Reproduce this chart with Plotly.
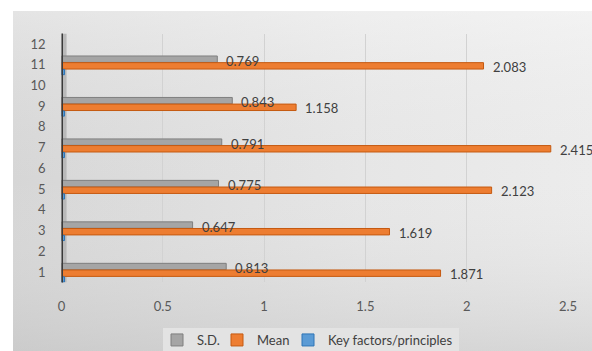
import plotly.graph_objects as go

# Category positions (1..12 axis, bars on odd rows)
positions = [1, 3, 5, 7, 9, 11]
y_ticks = list(range(1, 13))

sd_values = [0.813, 0.647, 0.775, 0.791, 0.843, 0.769]
mean_values = [1.871, 1.619, 2.123, 2.415, 1.158, 2.083]
key_values = [0.015, 0.015, 0.015, 0.015, 0.015, 0.015]

x_ticks = [0, 0.5, 1, 1.5, 2, 2.5]

FONT = "Lato"
W, H = 592, 351

fig = go.Figure()

# Soft gradient backdrop on a full-page helper axis pair
bx0, by1 = 13 / W, (H - 11) / H
fig.add_trace(go.Scatter(
    x=[bx0, 1, 1, bx0, bx0], y=[0, 0, by1, by1, 0],
    xaxis="x", yaxis="y", mode="lines", line=dict(width=0),
    fill="toself",
    fillgradient=dict(type="horizontal",
                      colorscale=[[0, "#d6d6d6"], [0.6, "#e6e6e6"], [1, "#ececec"]]),
    hoverinfo="skip", showlegend=False,
))
fig.add_trace(go.Scatter(
    x=[bx0, 1, 1, bx0, bx0], y=[0, 0, by1, by1, 0],
    xaxis="x", yaxis="y", mode="lines", line=dict(width=0),
    fill="toself",
    fillgradient=dict(type="vertical",
                      colorscale=[[0, "rgba(190,190,190,0.45)"], [0.5, "rgba(230,230,230,0.0)"],
                                  [1, "rgba(255,255,255,0.35)"]]),
    hoverinfo="skip", showlegend=False,
))

bar_w = 0.31
fig.add_trace(go.Bar(
    name="S.D.", y=positions, x=sd_values, orientation="h",
    xaxis="x2", yaxis="y2", width=bar_w, offset=0.11, legend="legend",
    marker=dict(color="#a5a5a5", line=dict(color="#7f7f7f", width=1)),
))
fig.add_trace(go.Bar(
    name="Mean", y=positions, x=mean_values, orientation="h",
    xaxis="x2", yaxis="y2", width=bar_w, offset=-0.21, legend="legend2",
    marker=dict(color="#ed7d31", line=dict(color="#c55a11", width=1)),
))
fig.add_trace(go.Bar(
    name="Key factors/principles", y=positions, x=key_values, orientation="h",
    xaxis="x2", yaxis="y2", width=0.25, offset=-0.48, legend="legend3",
    marker=dict(color="#5b9bd5", line=dict(color="#2e75b6", width=1)),
))

annotations = []
for p, v in zip(positions, sd_values):
    annotations.append(dict(x=v, y=p + 0.19, xref="x2", yref="y2", text=f"{v:.3f}",
                            showarrow=False, xanchor="left", xshift=7,
                            font=dict(family=FONT, size=13, color="#404040")))
for p, v in zip(positions, mean_values):
    annotations.append(dict(x=v, y=p - 0.1, xref="x2", yref="y2", text=f"{v:.3f}",
                            showarrow=False, xanchor="left", xshift=7,
                            font=dict(family=FONT, size=13, color="#404040")))

shapes = [
    # side wall of the 3D frame next to the value axis origin
    dict(type="rect", xref="x2", yref="y2", x0=0, x1=0.025, y0=0.5, y1=12.5,
         fillcolor="#b9b9b9", line=dict(width=0), layer="below"),
    # dark category-axis edge, running a little past the plot area
    dict(type="line", xref="x2", yref="y2", x0=0, x1=0, y0=0.25, y1=12.7,
         line=dict(color="#3a3a3a", width=3), layer="above"),
    # legend panel
    dict(type="rect", xref="paper", yref="paper", x0=163 / W, x1=459 / W, y0=0, y1=23 / H,
         fillcolor="#e3e3e3", line=dict(width=0), layer="above"),
]


def legend_at(x_px):
    return dict(orientation="h", x=x_px / W, xanchor="left",
                y=(H - 340) / H, yanchor="middle",
                bgcolor="rgba(0,0,0,0)", itemwidth=30,
                font=dict(family=FONT, size=13, color="#404040"),
                itemclick=False, itemdoubleclick=False)


fig.update_layout(
    width=W, height=H,
    margin=dict(l=0, r=0, t=0, b=0, autoexpand=False),
    paper_bgcolor="white",
    plot_bgcolor="rgba(0,0,0,0)",
    barmode="overlay",
    font=dict(family=FONT, size=13, color="#595959"),
    xaxis=dict(domain=[0, 1], range=[0, 1], visible=False, fixedrange=True),
    yaxis=dict(domain=[0, 1], range=[0, 1], visible=False, fixedrange=True),
    xaxis2=dict(domain=[61.5 / W, 568 / W], range=[0, 2.5], anchor="y2",
                tickvals=x_ticks, ticktext=[f"{t:g}" for t in x_ticks],
                showgrid=True, gridcolor="#d2d2d2", gridwidth=1,
                zeroline=False, showline=False, ticks="",
                ticklabelstandoff=15,
                tickfont=dict(family=FONT, size=13, color="#595959")),
    yaxis2=dict(domain=[(H - 282.4) / H, (H - 33.6) / H], range=[0.5, 12.5], anchor="x2",
                tickvals=y_ticks, ticktext=[str(t) for t in y_ticks],
                showgrid=False, zeroline=False, showline=False, ticks="",
                ticklabelstandoff=15,
                tickfont=dict(family=FONT, size=13, color="#595959")),
    legend=legend_at(157),
    legend2=legend_at(217),
    legend3=legend_at(288),
    annotations=annotations,
    shapes=shapes,
    showlegend=True,
)

fig.write_html("out.html")
